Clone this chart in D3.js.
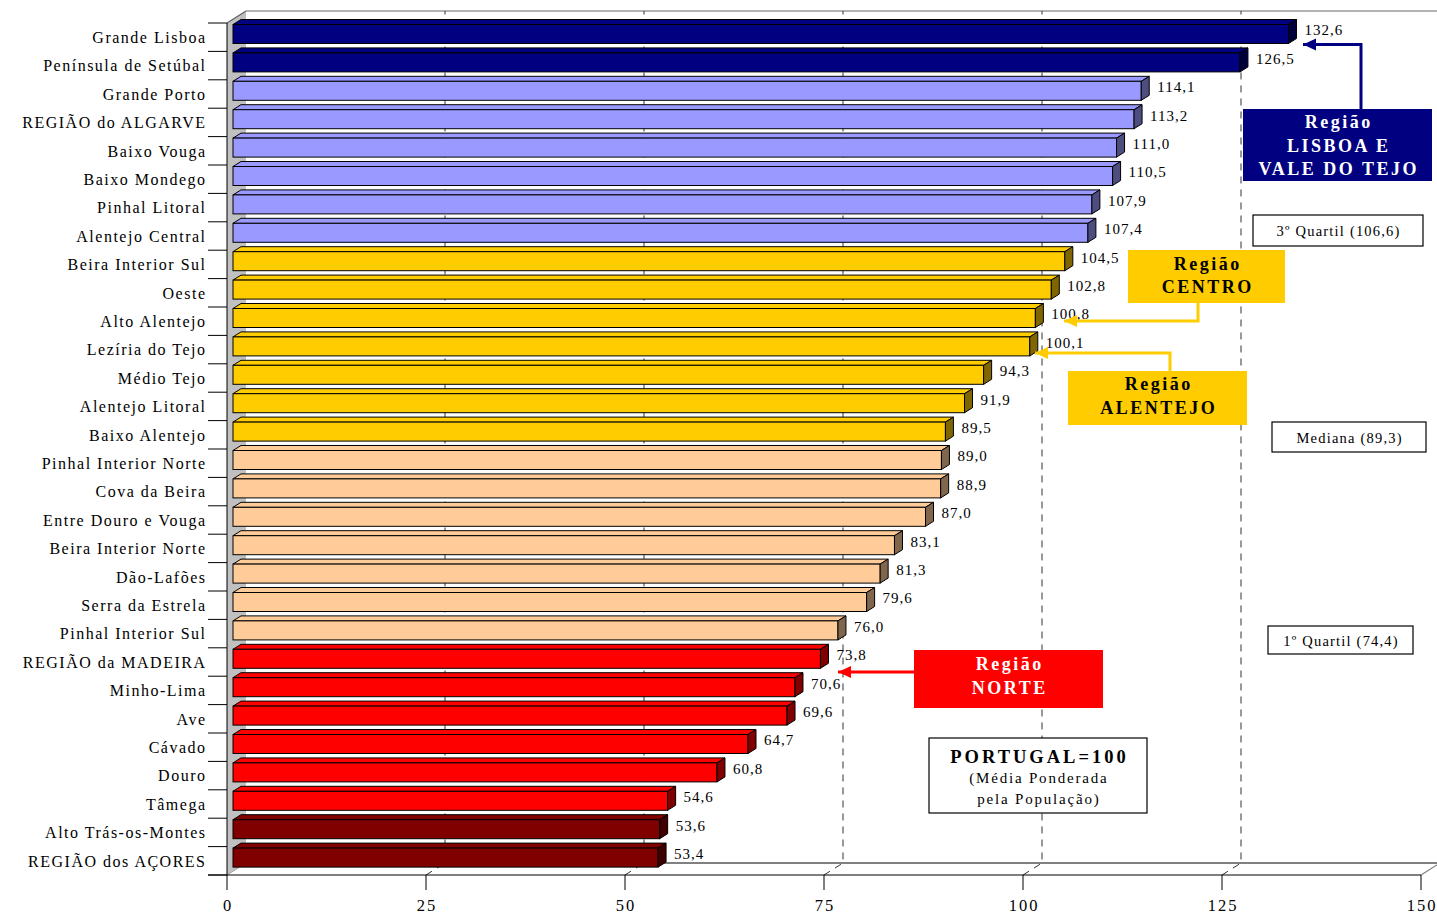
<!DOCTYPE html>
<html>
<head>
<meta charset="utf-8">
<script src="https://cdn.jsdelivr.net/npm/d3@7"></script>
<style>
  html, body { margin: 0; padding: 0; background: #fff; }
  svg { display: block; }
  text { font-family: "Liberation Serif", "Times New Roman", serif; }
</style>
</head>
<body>
<svg id="chart" width="1437" height="914"></svg>
<script>
// NUTS III regions, index Portugal = 100 (population-weighted mean)
const categories = [
  "Grande Lisboa", "Península de Setúbal", "Grande Porto", "REGIÃO do ALGARVE",
  "Baixo Vouga", "Baixo Mondego", "Pinhal Litoral", "Alentejo Central",
  "Beira Interior Sul", "Oeste", "Alto Alentejo", "Lezíria do Tejo",
  "Médio Tejo", "Alentejo Litoral", "Baixo Alentejo", "Pinhal Interior Norte",
  "Cova da Beira", "Entre Douro e Vouga", "Beira Interior Norte", "Dão-Lafões",
  "Serra da Estrela", "Pinhal Interior Sul", "REGIÃO da MADEIRA", "Minho-Lima",
  "Ave", "Cávado", "Douro", "Tâmega", "Alto Trás-os-Montes", "REGIÃO dos AÇORES"
];
const values = [
  132.6, 126.5, 114.1, 113.2, 111.0, 110.5, 107.9, 107.4,
  104.5, 102.8, 100.8, 100.1, 94.3, 91.9, 89.5, 89.0,
  88.9, 87.0, 83.1, 81.3, 79.6, 76.0, 73.8, 70.6,
  69.6, 64.7, 60.8, 54.6, 53.6, 53.4
];
// colour group of each bar
const groups = [
  "lvt", "lvt", "light", "light", "light", "light", "light", "light",
  "centro", "centro", "centro", "centro", "centro", "centro", "centro", "peach",
  "peach", "peach", "peach", "peach", "peach", "peach", "norte", "norte",
  "norte", "norte", "norte", "norte", "dark", "dark"
];
const xTicks = [0, 25, 50, 75, 100, 125, 150];
const gridValues = [25, 50, 75, 100, 125];

const palette = {
  lvt:    { front: "#000080", side: "#00003c" },
  light:  { front: "#9999ff", side: "#4d4d80" },
  centro: { front: "#ffcc00", side: "#806600" },
  peach:  { front: "#ffcc99", side: "#80664d" },
  norte:  { front: "#ff0000", side: "#800000" },
  dark:   { front: "#800000", side: "#400000" }
};

const fmt = v => v.toFixed(1).replace(".", ",");

const svg = d3.select("#chart");
const W = 1437;

// plot geometry (front plane) and 3D depth of the walls
const frontTop = 23, frontBottom = 875;
const wallDx = 19, wallDy = -12;
const barOffX = 6, barDx = 8, barDy = -5, barH = 19;

const x = d3.scaleLinear().domain([0, 150]).range([227, 1421]);
const y = d3.scaleBand().domain(categories).range([frontTop, frontBottom]).padding(0);

const data = categories.map((c, i) => ({ name: c, value: values[i], group: groups[i] }));

// ---- left wall
const x0 = x(0);
svg.append("polygon")
  .attr("points", [[x0, frontTop], [x0 + wallDx, frontTop + wallDy], [x0 + wallDx, frontBottom + wallDy], [x0, frontBottom]].join(" "))
  .attr("fill", "#c0c0c0");
svg.append("line")
  .attr("x1", x0).attr("y1", frontTop).attr("x2", x0 + wallDx).attr("y2", frontTop + wallDy)
  .attr("stroke", "#606060").attr("stroke-width", 1.2);
svg.append("line")
  .attr("x1", x0).attr("y1", frontBottom).attr("x2", x0 + wallDx).attr("y2", frontBottom + wallDy)
  .attr("stroke", "#a0a0a0").attr("stroke-width", 1);

// back-wall top edge and floor back edge
svg.append("line")
  .attr("x1", x0 + wallDx).attr("y1", frontTop + wallDy).attr("x2", W).attr("y2", frontTop + wallDy)
  .attr("stroke", "#9a9a9a").attr("stroke-width", 1.5);
svg.append("line")
  .attr("x1", x0 + wallDx).attr("y1", frontBottom + wallDy).attr("x2", W).attr("y2", frontBottom + wallDy)
  .attr("stroke", "#808080").attr("stroke-width", 2);

// ---- gridlines (floor segment + back wall), dashed
const grid = svg.append("g").attr("stroke", "#333").attr("stroke-width", 1)
  .attr("stroke-dasharray", "7,6").attr("fill", "none");
gridValues.forEach(v => {
  const gx = x(v);
  grid.append("path")
    .attr("d", `M${gx},${frontBottom} L${gx + wallDx},${frontBottom + wallDy} L${gx + wallDx},${frontTop + wallDy}`);
});
// right floor edge
svg.append("line")
  .attr("x1", x(150)).attr("y1", frontBottom).attr("x2", x(150) + wallDx).attr("y2", frontBottom + wallDy)
  .attr("stroke", "#808080").attr("stroke-width", 1.2);

// ---- category axis (left) line and ticks
svg.append("line")
  .attr("x1", x0).attr("y1", frontTop).attr("x2", x0).attr("y2", frontBottom)
  .attr("stroke", "#000").attr("stroke-width", 1);
const bounds = d3.range(categories.length + 1).map(i => frontTop + i * y.bandwidth());
svg.append("g").selectAll("line").data(bounds).join("line")
  .attr("x1", 208).attr("x2", x0).attr("y1", d => d).attr("y2", d => d)
  .attr("stroke", "#000").attr("stroke-width", 1);
svg.append("g").selectAll("text").data(categories).join("text")
  .attr("x", 206.5)
  .attr("y", d => y(d) + y.bandwidth() / 2)
  .attr("dy", "0.36em")
  .attr("text-anchor", "end")
  .attr("font-size", 16)
  .attr("letter-spacing", 1.5)
  .attr("fill", "#000")
  .text(d => d);

// ---- value axis (bottom)
svg.append("line")
  .attr("x1", 208).attr("y1", frontBottom).attr("x2", x(150)).attr("y2", frontBottom)
  .attr("stroke", "#000").attr("stroke-width", 1);
const xAxis = svg.append("g");
xAxis.selectAll("line").data(xTicks).join("line")
  .attr("x1", d => x(d)).attr("x2", d => x(d))
  .attr("y1", frontBottom).attr("y2", frontBottom + 15)
  .attr("stroke", "#000").attr("stroke-width", 1);
xAxis.selectAll("text").data(xTicks).join("text")
  .attr("x", d => x(d) + 1)
  .attr("y", 911)
  .attr("text-anchor", "middle")
  .attr("font-size", 16.5)
  .attr("letter-spacing", 2)
  .text(d => d);

// ---- 3D bars
const bars = svg.append("g").selectAll("g").data(data).join("g");
bars.each(function(d) {
  const g = d3.select(this);
  const c = palette[d.group];
  const bx0 = x(0) + barOffX;
  const bx1 = x(d.value) + barOffX;
  const yt = y(d.name) + 1.5;
  const yb = yt + barH;
  // top face
  g.append("polygon")
    .attr("points", [[bx0, yt], [bx0 + barDx, yt + barDy], [bx1 + barDx, yt + barDy], [bx1, yt]].join(" "))
    .attr("fill", c.front).attr("stroke", "#000").attr("stroke-width", 1).attr("stroke-linejoin", "round");
  // front face
  g.append("rect")
    .attr("x", bx0).attr("y", yt).attr("width", bx1 - bx0).attr("height", barH)
    .attr("fill", c.front).attr("stroke", "#000").attr("stroke-width", 1);
  // side face
  g.append("polygon")
    .attr("points", [[bx1, yt], [bx1 + barDx, yt + barDy], [bx1 + barDx, yb + barDy], [bx1, yb]].join(" "))
    .attr("fill", c.side).attr("stroke", "#000").attr("stroke-width", 1).attr("stroke-linejoin", "round");
  // value label
  g.append("text")
    .attr("x", bx1 + barDx + 8)
    .attr("y", yt + 5.5)
    .attr("dy", "0.36em")
    .attr("font-size", 15)
    .attr("letter-spacing", 1)
    .attr("fill", "#000")
    .text(fmt(d.value));
});

// ---- annotations
function labelBox(bx, by, bw, bh, fill, stroke, lines) {
  const g = svg.append("g");
  g.append("rect").attr("x", bx).attr("y", by).attr("width", bw).attr("height", bh)
    .attr("fill", fill).attr("stroke", stroke || "none").attr("stroke-width", 1.2);
  lines.forEach(l => {
    g.append("text")
      .attr("x", bx + bw / 2 + (l.ls || 0) / 2)
      .attr("y", l.y)
      .attr("dy", "0.36em")
      .attr("text-anchor", "middle")
      .attr("font-size", l.size)
      .attr("font-weight", l.bold ? "bold" : "normal")
      .attr("letter-spacing", l.ls || 0)
      .attr("fill", l.color)
      .text(l.text);
  });
  return g;
}

function elbowArrow(points, color) {
  const path = d3.line()(points);
  svg.append("path").attr("d", path).attr("fill", "none")
    .attr("stroke", color).attr("stroke-width", 3);
  // arrow head pointing left at the last point
  const [ax, ay] = points[points.length - 1];
  svg.append("polygon")
    .attr("points", [[ax, ay], [ax + 13, ay - 6], [ax + 13, ay + 6]].join(" "))
    .attr("fill", color);
}

// connectors from each region box to its first bar
elbowArrow([[1361, 109], [1361, 44.5], [1303, 44.5]], "#000080");
elbowArrow([[1198, 303], [1198, 321], [1064, 321]], "#ffcc00");
elbowArrow([[1170, 371], [1170, 353], [1035, 353]], "#ffcc00");
elbowArrow([[914, 672], [838, 672]], "#ff0000");

labelBox(1243, 109, 189, 72, "#000080", null, [
  { text: "Região", y: 122, size: 18, bold: true, ls: 2.5, color: "#fff" },
  { text: "LISBOA E", y: 146, size: 18, bold: true, ls: 2.5, color: "#fff" },
  { text: "VALE DO TEJO", y: 169, size: 18, bold: true, ls: 2.5, color: "#fff" }
]);
labelBox(1128, 250, 157, 53, "#ffcc00", null, [
  { text: "Região", y: 264, size: 18, bold: true, ls: 2.5, color: "#000" },
  { text: "CENTRO", y: 287, size: 18, bold: true, ls: 2.5, color: "#000" }
]);
labelBox(1068, 371, 179, 54, "#ffcc00", null, [
  { text: "Região", y: 384, size: 18, bold: true, ls: 2.5, color: "#000" },
  { text: "ALENTEJO", y: 408, size: 18, bold: true, ls: 2.5, color: "#000" }
]);
labelBox(914, 650, 189, 58, "#ff0000", null, [
  { text: "Região", y: 664, size: 18, bold: true, ls: 2.5, color: "#fff" },
  { text: "NORTE", y: 688, size: 18, bold: true, ls: 2.5, color: "#fff" }
]);
labelBox(929, 738, 218, 75, "#fff", "#000", [
  { text: "PORTUGAL=100", y: 756, size: 18.5, bold: true, ls: 3, color: "#000" },
  { text: "(Média Ponderada", y: 778, size: 15, ls: 1.8, color: "#000" },
  { text: "pela População)", y: 799, size: 15, ls: 1.8, color: "#000" }
]);
labelBox(1253, 215, 170, 31, "#fff", "#000", [
  { text: "3º Quartil (106,6)", y: 231, size: 14.5, ls: 1.2, color: "#000" }
]);
labelBox(1272, 422, 154, 30, "#fff", "#000", [
  { text: "Mediana (89,3)", y: 438, size: 14.5, ls: 1.2, color: "#000" }
]);
labelBox(1268, 626, 145, 28, "#fff", "#000", [
  { text: "1º Quartil (74,4)", y: 641, size: 14.5, ls: 1.2, color: "#000" }
]);
</script>
</body>
</html>
